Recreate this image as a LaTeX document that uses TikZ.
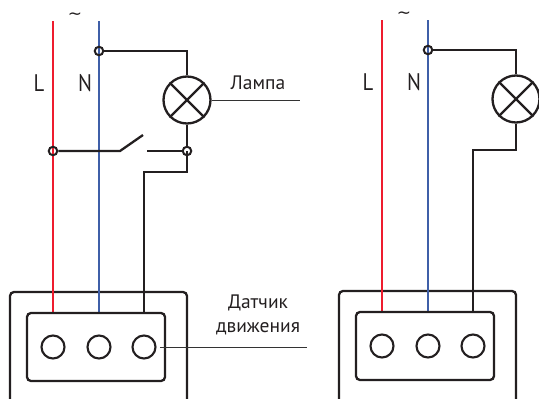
\documentclass[tikz,border=0pt]{standalone}
\usepackage{fontspec}
\setmainfont{PT Sans}
\newfontfamily\narrowfont[FakeStretch=0.86]{PT Sans}
\newfontfamily\tildefont{DejaVu Sans}
\usetikzlibrary{calc}
\definecolor{wire}{HTML}{231F20}
\definecolor{redw}{HTML}{EE1C2E}
\definecolor{bluew}{HTML}{3F5FA8}
\definecolor{leader}{HTML}{333333}
\tikzset{
  x=1pt,y=-1pt,
  blk/.style={draw=wire,line width=2.3pt},
  redwire/.style={draw=redw,line width=2.3pt},
  bluewire/.style={draw=bluew,line width=2.3pt},
  lead/.style={draw=leader,line width=0.8pt},
  lamp/.style={circle,draw=wire,line width=2.3pt,minimum size=47pt,inner sep=0pt,fill=white},
  term/.style={circle,draw=wire,line width=2.1pt,minimum size=23pt,inner sep=0pt},
  dot/.style={circle,draw=wire,line width=2pt,minimum size=8.5pt,inner sep=0pt},
  box/.style={blk,rounded corners=4pt},
  inner/.style={draw=wire,line width=2.3pt,rounded corners=4pt,minimum width=138pt,minimum height=68pt,inner sep=0pt},
  lab/.style={text=wire,inner sep=0pt,font=\fontsize{19.5}{22}\selectfont,align=center},
  big/.style={text=wire,inner sep=0pt,font=\narrowfont\fontsize{24}{26}\selectfont},
  tild/.style={text=wire,inner sep=0pt,anchor=base,font=\tildefont\fontsize{17}{18}\selectfont},
}
\newcommand{\lampcross}[1]{\draw[blk] (#1.45)--(#1.225) (#1.135)--(#1.315);}
\begin{document}
\begin{tikzpicture}
\useasboundingbox (0,0) rectangle (539,399);
\clip (0,0) rectangle (539,399);
% LEFT
\draw[box] (10,404) |- (187,292) -- (187,404);
\node[lamp] (lampA) at (187,100) {};
\lampcross{lampA}
\coordinate (topR) at (53,21);
\coordinate (topN) at (99,21);
\coordinate (botR) at (53,313);
\coordinate (botN) at (99,313);
\coordinate (botB) at (144,313);
\draw[redwire] (topR)--(botR);
\draw[bluewire] (topN)--(botN);
\node[dot] (jN) at (99,51) {};
\node[dot] (jL) at (53,151) {};
\node[dot] (jS) at (187,151) {};
\coordinate (sw1) at (120,151);
\coordinate (sw2) at (143,135);
\coordinate (sw3) at (147,151);
\draw[blk] (jN) -| (lampA);
\draw[blk] (lampA) -- (jS);
\draw[blk] (jL) -- (sw1) -- (sw2);
\draw[blk] (sw3) -- (jS);
\draw[blk] (jS.center) -- (187,172) -- (144,172) -- (botB);
\node[inner] (inA) at (96,347) {};
\node[term] (t1) at (53,347) {};
\node[term] (t2) at (99,347) {};
\node[term] (t3) at (144,347) {};
\coordinate (leadA) at (300,100);
\coordinate (leadB) at (307,347);
\draw[lead] (lampA.east) -- (leadA);
\draw[lead] (160,347) -- (leadB);
\node[big] (lL) at (39,83) {L};
\node[big] (lN) at (85,83) {N};
\node[tild] (tilA) at (75,19) {\char`\~};
\node[lab] (lLamp) at (258,83) {Лампа};
\node[lab] (lSens1) at (258,303) {Датчик};
\node[lab] (lSens2) at (258,329) {движения};
% RIGHT
\draw[box] (339,404) |- (516,291) -- (516,404);
\node[lamp] (lampB) at (516,99) {};
\lampcross{lampB}
\coordinate (topR2) at (382,20);
\coordinate (topN2) at (428,20);
\coordinate (botR2) at (382,312);
\coordinate (botN2) at (428,312);
\coordinate (botB2) at (473,312);
\draw[redwire] (topR2)--(botR2);
\draw[bluewire] (topN2)--(botN2);
\node[dot] (jN2) at (428,50) {};
\draw[blk] (jN2) -| (lampB);
\draw[blk] (lampB) -- (516,150) -- (473,150) -- (botB2);
\node[inner] (inB) at (425,346) {};
\node[term] (t4) at (382,346) {};
\node[term] (t5) at (428,346) {};
\node[term] (t6) at (473,346) {};
\node[big] (lL2) at (368,82) {L};
\node[big] (lN2) at (414,82) {N};
\node[tild] (tilB) at (404,18) {\char`\~};
\end{tikzpicture}
\end{document}
